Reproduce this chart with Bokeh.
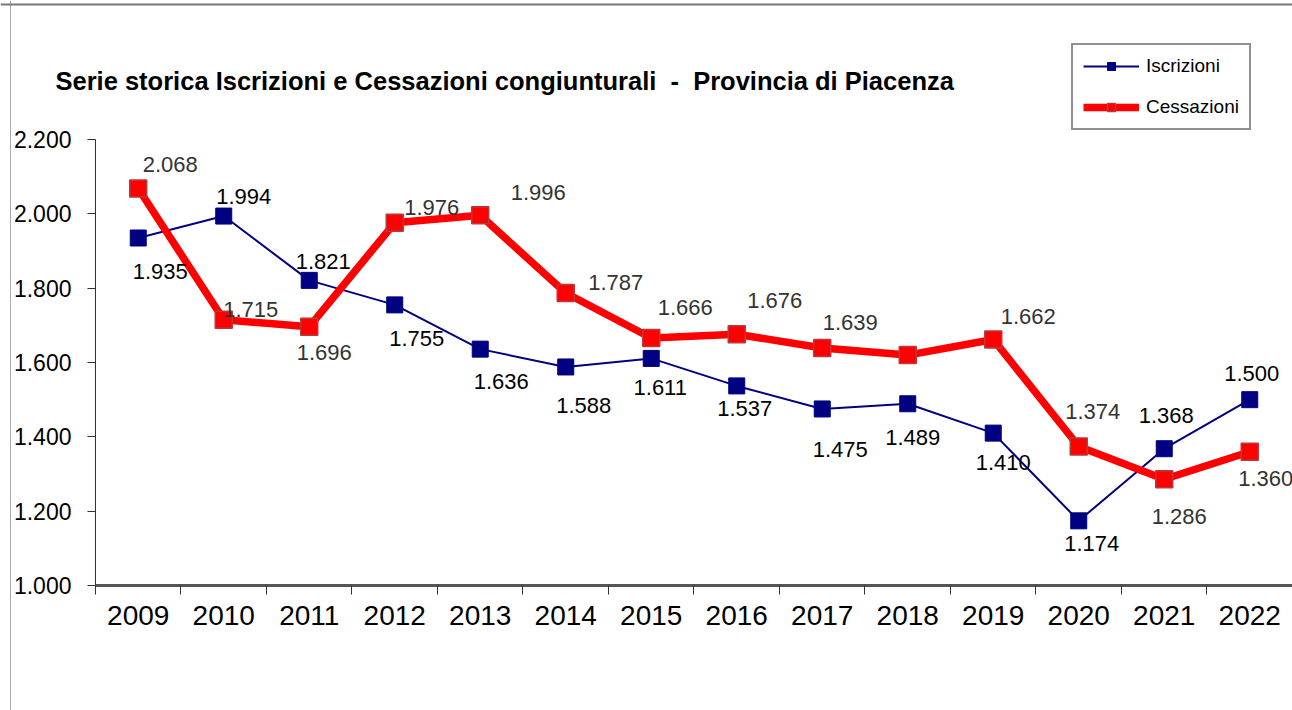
from bokeh.plotting import figure
from bokeh.models import (ColumnDataSource, Range1d, FixedTicker, Legend, LegendItem,
                          Label, LinearAxis, Span)
from bokeh.embed import file_html
from bokeh.resources import INLINE
from bokeh.core.properties import value

# ---- data ----
years = ["2009", "2010", "2011", "2012", "2013", "2014", "2015",
         "2016", "2017", "2018", "2019", "2020", "2021", "2022"]
iscrizioni = [1935, 1994, 1821, 1755, 1636, 1588, 1611, 1537, 1475, 1489, 1410, 1174, 1368, 1500]
cessazioni = [2068, 1715, 1696, 1976, 1996, 1787, 1666, 1676, 1639, 1620, 1662, 1374, 1286, 1360]
cess_label_shown = [True, True, True, True, True, True, True, True, True, False, True, True, True, True]
y_ticks = [1000, 1200, 1400, 1600, 1800, 2000, 2200]
y_tick_labels = ["1.000", "1.200", "1.400", "1.600", "1.800", "2.000", "2.200"]
title_text = "Serie storica Iscrizioni e Cessazioni congiunturali \u00a0-\u00a0 Provincia di Piacenza"

# label offsets in pixels (style)
isc_dx = [22, 20, 14, 22, 21, 18, 9, 8, 18, 5, 10, 13, 2, 2]
isc_dy = [34, -20, -19, 34, 32, 39, 29, 23, 41, 34, 29, 23, -33, -26]
ces_dx = [32, 27, 15, 37, 58, 50, 34, 38, 28, 0, 35, 14, 15, 16]
ces_dy = [-24, -10, 26, -15, -23, -11, -30, -34, -26, 0, -23, -35, 37, 27]


def fmt(v):
    return f"{v:,}".replace(",", ".")


n = len(years)
xs = list(range(n))
src_i = ColumnDataSource(dict(x=xs, y=iscrizioni,
                              t=[fmt(v) for v in iscrizioni], dx=isc_dx, dy=isc_dy))
src_c = ColumnDataSource(dict(x=xs, y=cessazioni,
                              t=[fmt(v) if s else "" for v, s in zip(cessazioni, cess_label_shown)],
                              dx=ces_dx, dy=ces_dy))

FONT = "Liberation Sans"

# The frame covers the whole canvas; axes are pinned inside it.
p = figure(width=1292, height=710, output_backend="svg", toolbar_location=None,
           x_range=Range1d(-1.611, 13.5), y_range=Range1d(663.7, 2574.0),
           x_axis_type=None, y_axis_type=None,
           min_border_left=0, min_border_top=0, min_border_right=0, min_border_bottom=0)
p.outline_line_color = None
p.grid.visible = False
p.background_fill_color = "white"
p.border_fill_color = "white"

# x axis
xaxis = LinearAxis(fixed_location=1000, bounds=(-0.5, n - 0.5))
xaxis.ticker = FixedTicker(ticks=xs, minor_ticks=[i - 0.5 for i in range(n + 1)])
xaxis.major_label_overrides = {i: y for i, y in enumerate(years)}
xaxis.major_tick_out = 0
xaxis.major_tick_in = 0
xaxis.minor_tick_out = 9
xaxis.minor_tick_in = 0
xaxis.minor_tick_line_color = "#333333"
xaxis.axis_line_color = "#555555"
xaxis.axis_line_width = 3
xaxis.major_label_text_font = FONT
xaxis.major_label_text_font_size = "28px"
xaxis.major_label_text_color = "black"
xaxis.major_label_standoff = 11
p.add_layout(xaxis, "below")

# y axis
yaxis = LinearAxis(fixed_location=-0.5, bounds=(1000, 2200))
yaxis.ticker = FixedTicker(ticks=y_ticks)
yaxis.major_label_overrides = {t: l for t, l in zip(y_ticks, y_tick_labels)}
yaxis.minor_tick_line_color = None
yaxis.major_tick_out = 8
yaxis.major_tick_in = 0
yaxis.major_tick_line_color = "#333333"
yaxis.axis_line_color = "#333333"
yaxis.axis_line_width = 1
yaxis.major_label_text_font = FONT
yaxis.major_label_text_font_size = "23px"
yaxis.major_label_text_color = "black"
yaxis.major_label_standoff = 16
p.add_layout(yaxis, "left")

# page frame lines
p.add_layout(Span(location=-1.494, dimension="height", line_color="#aaaaaa", line_width=1))
p.add_layout(Span(location=2563.2, dimension="width", line_color="#777777", line_width=2))

# series
l1 = p.line("x", "y", source=src_i, line_color="#000080", line_width=2)
s1 = p.scatter("x", "y", source=src_i, marker="square", size=16,
               fill_color="#000080", line_color="#000080")
l2 = p.line("x", "y", source=src_c, line_color="#FF0000", line_width=7.5)
s2 = p.scatter("x", "y", source=src_c, marker="square", size=17,
               fill_color="#FF0000", line_color="#B83A3A", line_width=1.5)

p.text("x", "y", text="t", source=src_i, x_offset="dx", y_offset="dy",
       text_align="center", text_baseline="middle", text_font=value(FONT),
       text_font_size="22px", text_color="black")
p.text("x", "y", text="t", source=src_c, x_offset="dx", y_offset="dy",
       text_align="center", text_baseline="middle", text_font=value(FONT),
       text_font_size="22px", text_color="#333333")

# title
p.add_layout(Label(x=-0.968, y=2358.7, text=title_text, text_baseline="middle",
                   text_align="left", text_font=FONT, text_font_size="25.5px",
                   text_font_style="bold", text_color="black"))

legend = Legend(items=[LegendItem(label="Iscrizioni", renderers=[l1, s1]),
                       LegendItem(label="Cessazioni", renderers=[l2, s2])],
                location=(1071, 580), orientation="vertical")
legend.border_line_color = "#222222"
legend.border_line_width = 2
legend.background_fill_color = "white"
legend.background_fill_alpha = 1
legend.label_text_font = FONT
legend.label_text_font_size = "19px"
legend.label_text_color = "black"
legend.glyph_width = 56
legend.glyph_height = 20
legend.label_height = 20
legend.label_standoff = 7
legend.padding = 10
legend.spacing = 19
legend.margin = 0
p.add_layout(legend, "center")

open("out.html", "w").write(file_html(p, INLINE))
